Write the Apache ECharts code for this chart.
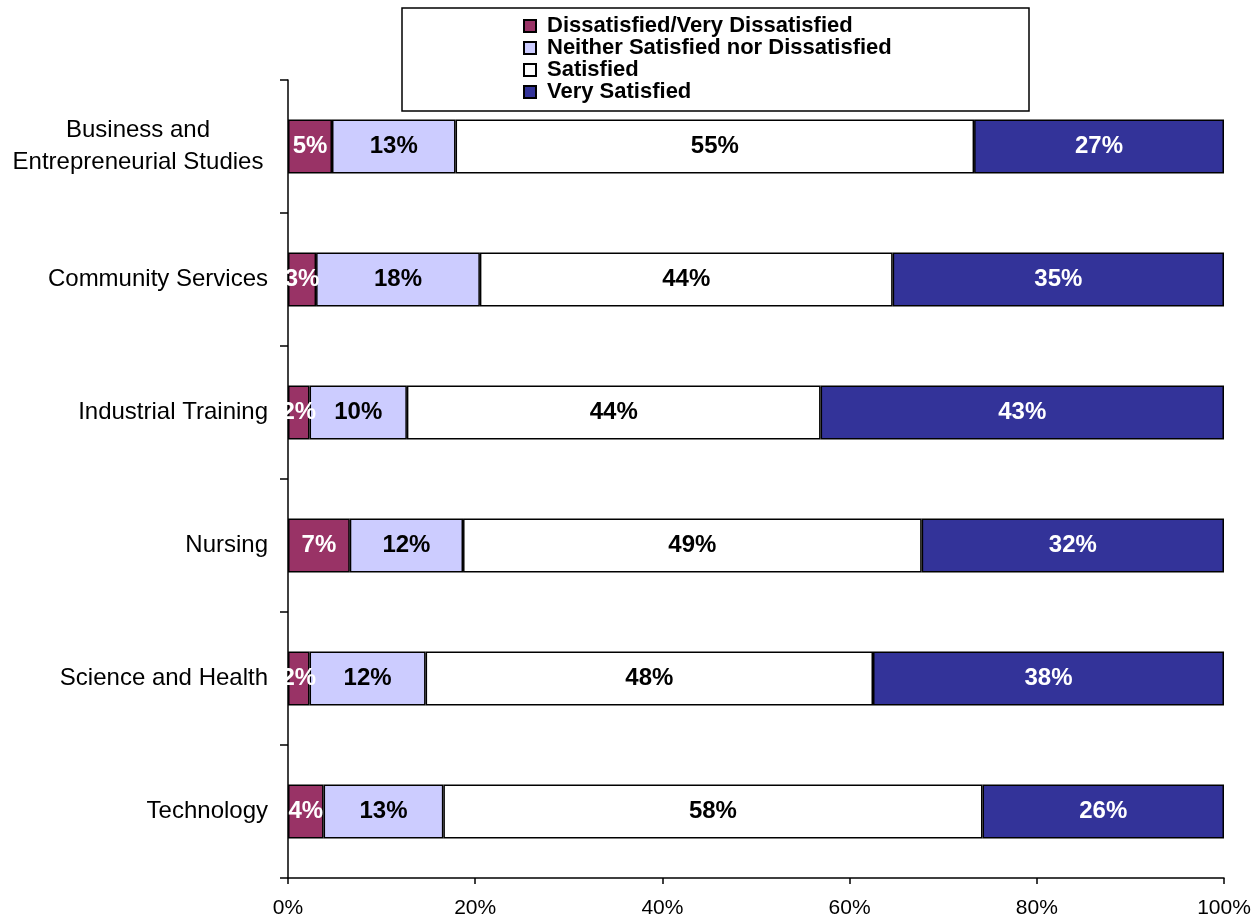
<!DOCTYPE html>
<html>
<head>
<meta charset="utf-8">
<script src="https://cdn.jsdelivr.net/npm/echarts@6/dist/echarts.min.js"></script>
<style>html,body{margin:0;padding:0;background:#fff}#c{width:1258px;height:917px}</style>
</head>
<body>
<div id="c"></div>
<script>
const categories = ['Business and\nEntrepreneurial Studies', 'Community Services', 'Industrial Training', 'Nursing', 'Science and Health', 'Technology'];
const seriesNames = ['Dissatisfied/Very Dissatisfied', 'Neither Satisfied nor Dissatisfied', 'Satisfied', 'Very Satisfied'];
const dissatisfied = [4.7, 3.0, 2.3, 6.6, 2.3, 3.8];
const neither = [13.2, 17.5, 10.4, 12.1, 12.4, 12.8];
const satisfied = [55.4, 44.1, 44.2, 49.0, 47.8, 57.6];
const verySatisfied = [26.7, 35.4, 43.1, 32.3, 37.5, 25.8];
const xTicks = [0, 20, 40, 60, 80, 100];

const colors = ['#993366', '#CCCCFF', '#FFFFFF', '#333399'];
const labelColors = ['#FFFFFF', '#000000', '#000000', '#FFFFFF'];
const values = [dissatisfied, neither, satisfied, verySatisfied];
const FONT = 'Liberation Sans, Arial, sans-serif';

const chart = echarts.init(document.getElementById('c'));
chart.setOption({
  animation: false,
  backgroundColor: '#fff',
  graphic: [{
    type: 'rect', z: 0,
    shape: { x: 402, y: 8, width: 627, height: 103 },
    style: { fill: '#fff', stroke: '#000', lineWidth: 1.5 }
  }],
  legend: {
    z: 10,
    orient: 'vertical',
    left: 518, top: 10,
    itemWidth: 12, itemHeight: 12, itemGap: 0,
    icon: 'rect',
    textStyle: { fontFamily: FONT, fontWeight: 'bold', fontSize: 22, color: '#000', lineHeight: 22, padding: [0, 0, 0, 6] },
    data: seriesNames
  },
  grid: { left: 288, right: 34, top: 80, bottom: 39, containLabel: false, outerBoundsMode: 'none' },
  xAxis: {
    type: 'value', min: xTicks[0], max: xTicks[xTicks.length - 1], interval: 20,
    axisLine: { show: true, lineStyle: { color: '#000', width: 1.5 } },
    axisTick: { show: true, length: 6, lineStyle: { color: '#000', width: 1.5 } },
    splitLine: { show: false },
    axisLabel: { formatter: '{value}%', fontFamily: FONT, fontSize: 21, color: '#000', margin: 20 }
  },
  yAxis: {
    type: 'category', inverse: true, data: categories,
    axisLine: { show: true, lineStyle: { color: '#000', width: 1.5 } },
    axisTick: { show: true, length: 8, lineStyle: { color: '#000', width: 1.5 } },
    axisLabel: {
      fontFamily: FONT, fontSize: 24, color: '#000', margin: 20, lineHeight: 32,
      formatter: function (v) {
        if (v.indexOf('\n') >= 0) {
          return v.split('\n').map(s => '{c|' + s + '}').join('\n');
        }
        return v;
      },
      rich: { c: { width: 260, align: 'center', fontFamily: FONT, fontSize: 24, color: '#000', lineHeight: 32 } }
    }
  },
  series: seriesNames.map((name, i) => ({
    name: name, type: 'bar', stack: 'total', barWidth: 54,
    data: values[i],
    itemStyle: { color: colors[i], borderColor: '#000', borderWidth: 1.5 },
    label: {
      show: true, position: 'inside',
      formatter: p => Math.round(p.value) + '%',
      color: labelColors[i], fontFamily: FONT, fontWeight: 'bold', fontSize: 24,
      textBorderWidth: 0
    }
  }))
});
</script>
</body>
</html>
